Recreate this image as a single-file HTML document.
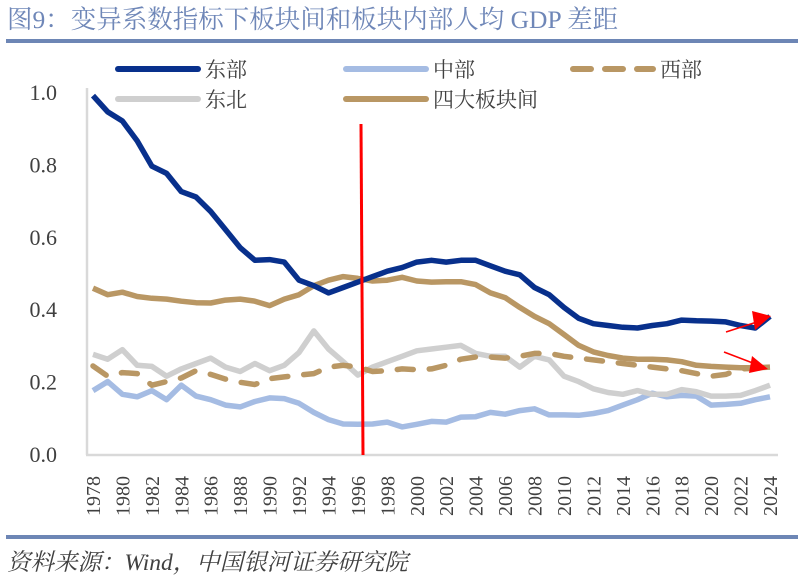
<!DOCTYPE html>
<html><head><meta charset="utf-8"><style>
body{margin:0;background:#fff;width:804px;height:585px;overflow:hidden}
svg{display:block}
</style></head><body>
<svg id="c" width="804" height="585" xmlns="http://www.w3.org/2000/svg">
<text x="7" y="28" font-family="Liberation Serif, Noto Serif CJK SC, serif" font-size="25.5" fill="#6f87b8">图9：变异系数指标下板块间和板块内部人均 GDP 差距</text>
<rect x="6" y="39" width="792" height="4" fill="#6d86b5"/>
<rect x="6" y="535" width="792" height="4" fill="#6d86b5"/>
<text x="7" y="570" font-family="Liberation Serif, Noto Serif CJK SC, serif" font-size="23.5" font-style="italic" fill="#404040">资料来源：Wind，中国银河证券研究院</text>
<g id="axes"></g><g id="series"></g>
<g font-family="Liberation Serif, Noto Serif CJK SC, serif" font-size="21" fill="#404040">
<line x1="118" y1="69" x2="198" y2="69" stroke="#08308c" stroke-width="6" stroke-linecap="round"/>
<text x="205" y="77">东部</text>
<line x1="346" y1="69" x2="426" y2="69" stroke="#a5bce3" stroke-width="6" stroke-linecap="round"/>
<text x="433" y="77">中部</text>
<line x1="573" y1="69" x2="653" y2="69" stroke="#b99764" stroke-width="6" stroke-dasharray="18,14" stroke-linecap="round"/>
<text x="660" y="77">西部</text>
<line x1="118" y1="99" x2="198" y2="99" stroke="#cfcfcf" stroke-width="6" stroke-linecap="round"/>
<text x="205" y="107">东北</text>
<line x1="346" y1="99" x2="426" y2="99" stroke="#b99764" stroke-width="6" stroke-linecap="round"/>
<text x="433" y="107">四大板块间</text>
</g>
<g>
<line x1="361" y1="124" x2="363" y2="455" stroke="#ff0000" stroke-width="3"/>
<line x1="726" y1="332" x2="760" y2="321" stroke="#ff0000" stroke-width="1.5"/>
<polygon points="771,316 752,311 755,330" fill="#ff0000"/>
<line x1="724" y1="352" x2="758" y2="365" stroke="#ff0000" stroke-width="1.5"/>
<polygon points="768,369 752,356 749,373" fill="#ff0000"/>
</g>
</svg>
<script>
const years=[];for(let y=1978;y<=2024;y++)years.push(y);
const yTicks=[0,0.2,0.4,0.6,0.8,1.0];
const east=[0.99,0.945,0.92,0.865,0.795,0.775,0.725,0.71,0.67,0.62,0.57,0.535,0.537,0.53,0.48,0.465,0.445,0.46,0.475,0.49,0.505,0.515,0.53,0.535,0.53,0.535,0.535,0.52,0.505,0.495,0.46,0.44,0.405,0.375,0.36,0.355,0.35,0.348,0.355,0.36,0.37,0.368,0.367,0.365,0.355,0.348,0.38];
const central=[0.175,0.2,0.165,0.158,0.175,0.15,0.19,0.16,0.15,0.135,0.13,0.145,0.155,0.153,0.14,0.115,0.095,0.083,0.082,0.083,0.088,0.075,0.082,0.09,0.088,0.102,0.103,0.115,0.11,0.12,0.125,0.108,0.108,0.107,0.112,0.12,0.135,0.15,0.168,0.158,0.162,0.16,0.135,0.137,0.14,0.15,0.158];
const northeast=[0.275,0.262,0.288,0.245,0.242,0.215,0.235,0.25,0.265,0.24,0.228,0.25,0.23,0.245,0.28,0.34,0.29,0.255,0.218,0.24,0.255,0.27,0.285,0.29,0.295,0.3,0.278,0.27,0.27,0.24,0.27,0.26,0.215,0.2,0.18,0.17,0.165,0.175,0.165,0.165,0.178,0.172,0.16,0.16,0.162,0.175,0.19];
const west=[0.243,0.215,0.225,0.222,0.19,0.2,0.21,0.23,0.22,0.207,0.198,0.192,0.208,0.213,0.218,0.222,0.24,0.245,0.24,0.228,0.23,0.235,0.233,0.235,0.245,0.262,0.268,0.268,0.265,0.27,0.278,0.278,0.27,0.265,0.26,0.255,0.25,0.245,0.24,0.235,0.23,0.222,0.215,0.22,0.235,0.237,0.24];
const fourRegions=[0.458,0.44,0.447,0.435,0.43,0.428,0.422,0.418,0.417,0.425,0.428,0.422,0.41,0.428,0.44,0.465,0.48,0.49,0.485,0.478,0.48,0.488,0.478,0.475,0.476,0.476,0.468,0.445,0.432,0.405,0.38,0.36,0.33,0.3,0.282,0.272,0.265,0.262,0.262,0.26,0.255,0.245,0.242,0.24,0.238,0.238,0.24];
const NS='http://www.w3.org/2000/svg';
const X=yr=>93+(yr-1978)*(770-93)/46;
const Y=v=>454-v*362;
const ax=document.getElementById('axes'),sg=document.getElementById('series');
function mk(tag,attrs,parent){const e=document.createElementNS(NS,tag);for(const k in attrs)e.setAttribute(k,attrs[k]);parent.appendChild(e);return e;}
let a=mk('line',{x1:87,y1:88,x2:87,y2:455,stroke:'#d9d9d9','stroke-width':2.5},ax);


a=mk('line',{x1:86,y1:455,x2:778,y2:455,stroke:'#d9d9d9','stroke-width':2.5},ax);


yTicks.forEach(v=>{const t=mk('text',{x:57,y:Y(v)+8,'text-anchor':'end','font-family':'Liberation Serif, serif','font-size':22,fill:'#404040'},ax);t.textContent=v.toFixed(1);

});
years.filter(y=>y%2===0).forEach(yr=>{const x=X(yr)+7,yy=516;const t=mk('text',{x:x,y:yy,transform:`rotate(-90 ${x} ${yy})`,'font-family':'Liberation Serif, serif','font-size':20,fill:'#404040'},ax);t.textContent=yr;

});
function line(data,color,name,dash){const d=data.map((v,i)=>(i?'L':'M')+X(years[i]).toFixed(1)+','+Y(v).toFixed(1)).join('');
const p=mk('path',{d:d,fill:'none',stroke:color,'stroke-width':5.5,'stroke-linejoin':'round','stroke-linecap':dash?'round':'butt'},sg);
if(dash)p.setAttribute('stroke-dasharray',dash);

}
line(central,'#a5bce3','series-central');
line(northeast,'#cfcfcf','series-northeast');
line(west,'#b99764','series-west','16,16');
line(fourRegions,'#b99764','series-four-regions');
line(east,'#08308c','series-east');
</script>
</body></html>
